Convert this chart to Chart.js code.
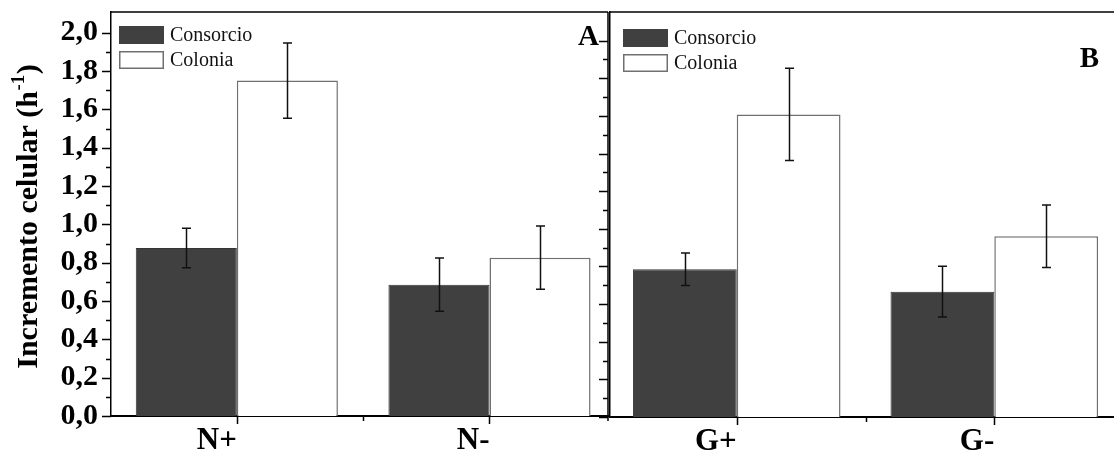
<!DOCTYPE html>
<html>
<head>
<meta charset="utf-8">
<script src="https://cdn.jsdelivr.net/npm/chart.js@4.4.0/dist/chart.umd.min.js"></script>
<style>
  html, body { margin: 0; padding: 0; background: #fff; overflow: hidden; width: 1114px; height: 454px; }
  .panel { position: absolute; top: 0; }
  #wrapA { left: 0; width: 620px; height: 454px; }
  #wrapB { left: 598px; width: 530px; height: 454px; }
</style>
</head>
<body>
<div class="panel" id="wrapA"><canvas id="chartA" width="620" height="454"></canvas></div>
<div class="panel" id="wrapB"><canvas id="chartB" width="530" height="454"></canvas></div>
<script>
// Categories per panel
const categoriesA = ['N+', 'N-'];
const categoriesB = ['G+', 'G-'];
const seriesNames = ['Consorcio', 'Colonia'];

// Cell growth rate (h^-1), mean and error
const consorcioA    = [0.877, 0.685];
const consorcioAErr = [0.103, 0.139];
const coloniaA      = [1.750, 0.826];
const coloniaAErr   = [0.196, 0.165];

const consorcioB    = [0.785, 0.666];
const consorcioBErr = [0.086, 0.135];
const coloniaB      = [1.608, 0.961];
const coloniaBErr   = [0.245, 0.166];

// Y tick positions (every 0.1, labelled every 0.2)
const yTickValues = [0.0, 0.1, 0.2, 0.3, 0.4, 0.5, 0.6, 0.7, 0.8, 0.9, 1.0,
                     1.1, 1.2, 1.3, 1.4, 1.5, 1.6, 1.7, 1.8, 1.9, 2.0];
const panelLetters = ['A', 'B'];
const yTitleMain = 'Incremento celular (h';
const yTitleSup = '-1';
const yTitleEnd = ')';

const SERIF = '"Liberation Serif", "Times New Roman", serif';
const DARK = '#404040';
const GRAYLINE = '#707070';

function fmtTick(v) {
  const k = Math.round(v * 10);
  return k % 2 === 0 ? (k / 10).toFixed(1).replace('.', ',') : '';
}

// Error bars, frame, tick marks, legend and panel letter
const panelDecor = {
  id: 'panelDecor',
  afterDatasetsDraw(chart, args, opts) {
    const ctx = chart.ctx;
    const { left, right, top, bottom } = chart.chartArea;
    const xs = chart.scales.x, ys = chart.scales.y;
    ctx.save();

    // error bars
    ctx.strokeStyle = '#111';
    ctx.lineWidth = 1.5;
    chart.data.datasets.forEach((ds, di) => {
      const meta = chart.getDatasetMeta(di);
      meta.data.forEach((bar, i) => {
        const v = ds.data[i].y, e = ds.errors[i];
        const yT = ys.getPixelForValue(v + e), yB = ys.getPixelForValue(v - e);
        const bx = Math.round(bar.x) + 0.5;
        ctx.beginPath();
        ctx.moveTo(bx, yT); ctx.lineTo(bx, yB);
        ctx.moveTo(bx - 4.5, yT); ctx.lineTo(bx + 4.5, yT);
        ctx.moveTo(bx - 4.5, yB); ctx.lineTo(bx + 4.5, yB);
        ctx.stroke();
      });
    });

    // frame lines
    ctx.strokeStyle = '#000';
    ctx.lineWidth = 1.5;
    ctx.beginPath();
    ctx.moveTo(left, top); ctx.lineTo(opts.frameRight ? right : chart.width, top);
    if (opts.frameRight) { ctx.moveTo(right, top); ctx.lineTo(right, bottom); }
    ctx.stroke();

    // y tick marks
    ctx.lineWidth = 1.5;
    ctx.beginPath();
    yTickValues.forEach((v, i) => {
      const py = Math.round(ys.getPixelForValue(v)) + 0.5;
      const len = i % 2 === 0 ? 9 : 5;
      const x0 = left - opts.yTickGap;
      ctx.moveTo(x0, py); ctx.lineTo(x0 - len, py);
    });
    // x tick marks: major at categories, minor between
    const cats = opts.categories;
    cats.forEach((c, i) => {
      const px = Math.round(xs.getPixelForValue(i)) + 0.5;
      ctx.moveTo(px, bottom); ctx.lineTo(px, bottom + 8);
      if (i < cats.length - 1) {
        const pm = Math.round(xs.getPixelForValue(i + 0.5)) + 0.5;
        ctx.moveTo(pm, bottom); ctx.lineTo(pm, bottom + 5);
      }
    });
    if (opts.frameRight) { ctx.moveTo(right, bottom); ctx.lineTo(right, bottom + 5); }
    ctx.stroke();

    // legend
    const lx = left + opts.legendDx, ly = top + opts.legendDy;
    ctx.font = '20px ' + SERIF;
    ctx.textBaseline = 'middle';
    ctx.textAlign = 'left';
    chart.data.datasets.forEach((ds, di) => {
      const by = ly + di * 25;
      ctx.fillStyle = ds.backgroundColor;
      ctx.fillRect(lx, by, 45, 18);
      if (di === 1) {
        ctx.strokeStyle = GRAYLINE; ctx.lineWidth = 1.5;
        ctx.strokeRect(lx + 0.75, by + 0.75, 43.5, 16.5);
      }
      ctx.fillStyle = '#111';
      ctx.fillText(ds.label, lx + 51, by + 10);
    });

    // panel letter
    ctx.font = 'bold 29px ' + SERIF;
    ctx.textAlign = 'right';
    ctx.textBaseline = 'alphabetic';
    ctx.fillStyle = '#000';
    ctx.fillText(opts.letter, right + opts.letterDx, top + opts.letterDy);

    // rotated y title with superscript
    if (opts.yTitle) {
      ctx.save();
      ctx.translate(opts.yTitle.x, opts.yTitle.y);
      ctx.rotate(-Math.PI / 2);
      const fMain = 'bold 30px ' + SERIF, fSup = 'bold 19px ' + SERIF;
      ctx.font = fMain; const w1 = ctx.measureText(yTitleMain).width; const w3 = ctx.measureText(yTitleEnd).width;
      ctx.font = fSup; const w2 = ctx.measureText(yTitleSup).width;
      let x0 = -(w1 + w2 + w3) / 2;
      ctx.textAlign = 'left';
      ctx.textBaseline = 'middle';
      ctx.font = fMain; ctx.fillText(yTitleMain, x0, 0); x0 += w1;
      ctx.font = fSup; ctx.fillText(yTitleSup, x0 + 0.5, -10); x0 += w2 + 1;
      ctx.font = fMain; ctx.fillText(yTitleEnd, x0, 0);
      ctx.restore();
    }
    ctx.restore();
  }
};

function makePanel(canvasId, cats, cons, consErr, col, colErr, geo) {
  return new Chart(document.getElementById(canvasId), {
    type: 'bar',
    data: {
      datasets: [
        {
          label: seriesNames[0],
          data: cons.map((v, i) => ({ x: i, y: v })),
          errors: consErr,
          backgroundColor: DARK,
          borderColor: '#353535',
          borderWidth: 1,
          categoryPercentage: geo.catPct,
          barPercentage: 1.0
        },
        {
          label: seriesNames[1],
          data: col.map((v, i) => ({ x: i, y: v })),
          errors: colErr,
          backgroundColor: '#ffffff',
          borderColor: GRAYLINE,
          borderWidth: 1.5,
          categoryPercentage: geo.catPct,
          barPercentage: 1.0
        }
      ]
    },
    options: {
      responsive: false,
      animation: false,
      events: [],
      layout: { padding: { top: geo.padTop, right: geo.padRight, left: 0, bottom: 0 } },
      plugins: {
        legend: { display: false },
        tooltip: { enabled: false },
        panelDecor: {
          categories: cats,
          frameRight: geo.frameRight,
          yTickGap: geo.yTickGap,
          legendDx: geo.legendDx, legendDy: geo.legendDy,
          letter: geo.letter, letterDx: geo.letterDx, letterDy: geo.letterDy,
          yTitle: geo.yTitle
        }
      },
      scales: {
        x: {
          type: 'linear',
          min: geo.xMin, max: geo.xMax,
          offset: false,
          grid: { display: false, drawTicks: false, offset: false },
          border: { display: true, color: '#000', width: 2 },
          afterBuildTicks: s => { s.ticks = cats.map((c, i) => ({ value: i })); },
          afterFit: s => { s.height = geo.xAxisHeight; s.paddingLeft = 0; s.paddingRight = 0; },
          ticks: {
            autoSkip: false, maxRotation: 0,
            align: 'end',
            padding: 6,
            color: '#000',
            font: { family: SERIF, size: 31, weight: 'bold' },
            callback: v => cats[Math.round(v)] ?? ''
          }
        },
        y: {
          min: 0, max: geo.yMax,
          grid: { display: false, drawTicks: false },
          border: { display: true, color: '#000', width: 1.5 },
          afterBuildTicks: s => { s.ticks = yTickValues.map(v => ({ value: v })); },
          afterFit: s => { s.width = geo.yAxisWidth; s.paddingTop = 0; s.paddingBottom = 0; },
          ticks: {
            display: geo.yLabels,
            autoSkip: false,
            padding: 13,
            color: '#000',
            font: { family: SERIF, size: 30, weight: 'bold' },
            callback: v => fmtTick(v)
          }
        }
      }
    },
    plugins: [panelDecor]
  });
}

makePanel('chartA', categoriesA, consorcioA, consorcioAErr, coloniaA, coloniaAErr, {
  catPct: 0.80, padTop: 12, padRight: 12, xAxisHeight: 38, yAxisWidth: 111,
  xMin: -0.498, xMax: 1.469, yMax: 2.108, yLabels: true,
  frameRight: true, yTickGap: 0,
  legendDx: 8, legendDy: 14,
  letter: panelLetters[0], letterDx: -9, letterDy: 33,
  yTitle: { x: 29, y: 217 }
});

makePanel('chartB', categoriesB, consorcioB, consorcioBErr, coloniaB, coloniaBErr, {
  catPct: 0.806, padTop: 12, padRight: 4, xAxisHeight: 37, yAxisWidth: 12,
  xMin: -0.492, xMax: 1.5035, yMax: 2.152, yLabels: false,
  frameRight: false, yTickGap: 2,
  legendDx: 13, legendDy: 17,
  letter: panelLetters[1], letterDx: -25, letterDy: 55,
  yTitle: null
});
</script>
</body>
</html>
